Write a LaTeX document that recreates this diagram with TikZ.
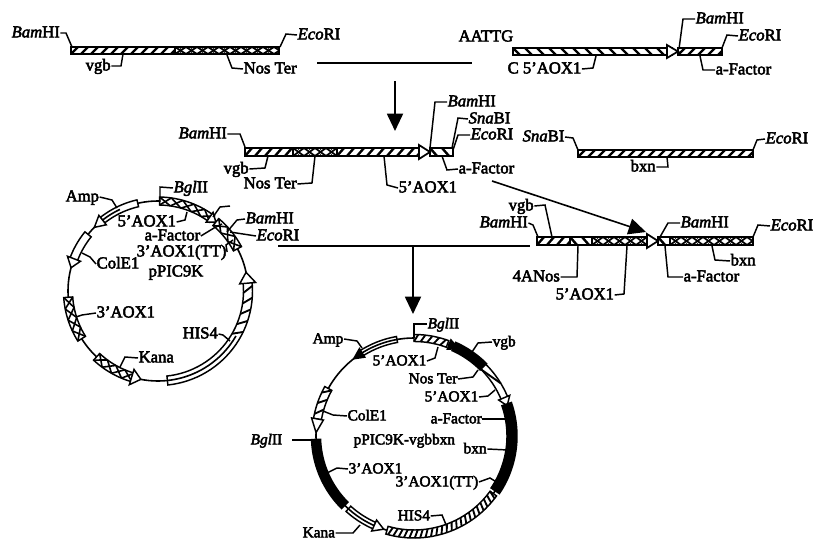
\documentclass[tikz,border=0pt]{standalone}
\usepackage{fontspec}
\setmainfont{Liberation Serif}[FakeBold=3]
\usetikzlibrary{arrows.meta}
\def\labfont{\fontsize{12.5}{14}\selectfont}
\tikzset{
  lab/.style={font=\labfont,inner sep=0pt,outer sep=0.5pt,anchor=west,text height=0.66em,text depth=0pt},
  ld/.style={line width=1.1pt,line join=miter},
  barout/.style={draw=black,line width=1.5pt,line join=miter},
  barline/.style={line width=1.3pt,black},
  ringout/.style={draw=black,fill=white,line width=1.1pt,line join=miter},
  ringblack/.style={draw=black,fill=black,line width=1.1pt,line join=miter},
  ringline/.style={line width=1.2pt,black},
  base/.style={line width=1.2pt,black},
  bigarrow/.style={line width=1.4pt,-{Triangle[length=13pt,width=12pt]}}
}
% label
\newcommand\lab[4]{\node[lab] (#1) at (#2,#3) {#4};}
% leader from label anchor via one point to end
\newcommand\leader[4]{\coordinate (#1-e) at #4; \draw[ld] (#1.#2) -- #3 -- (#1-e);}
\newcommand\leaderS[3]{\coordinate (#1-e) at #3; \draw[ld] (#1.#2) -- (#1-e);}
% straight bar: hatched
\newcommand\barH[4]{%
  \begin{scope}\clip (#1,#3) rectangle (#2,#4);
    \pgfmathtruncatemacro\nn{(#2-#1)/10+2}
    \foreach \i in {0,...,\nn}{\draw[barline,line width=1.8pt] ({#1+10*\i-10},#4) -- ({#1+10*\i-3},#3);}
  \end{scope}
  \draw[barout] (#1,#3) rectangle (#2,#4);}
% reverse-hatched
\newcommand\barB[4]{%
  \begin{scope}\clip (#1,#3) rectangle (#2,#4);
    \pgfmathtruncatemacro\nn{(#2-#1)/12+2}
    \foreach \i in {0,...,\nn}{\draw[barline,line width=1.8pt] ({#1+12*\i-12},#3) -- ({#1+12*\i-5},#4);}
  \end{scope}
  \draw[barout] (#1,#3) rectangle (#2,#4);}
% straight bar: crossed
\newcommand\barX[4]{%
  \begin{scope}\clip (#1,#3) rectangle (#2,#4);
    \pgfmathtruncatemacro\nn{(#2-#1)/11+2}
    \foreach \i in {0,...,\nn}{
      \draw[barline] ({#1+11*\i-11},#4) -- ({#1+11*\i},#3);
      \draw[barline] ({#1+11*\i-11},#3) -- ({#1+11*\i},#4);
      \fill ({#1+11*\i-5.5},#3) circle [radius=1.8];
      \fill ({#1+11*\i-5.5},#4) circle [radius=1.8];}
  \end{scope}
  \draw[barout] (#1,#3) rectangle (#2,#4);}
% arrow head on a bar: tip x, y1, y2
\newcommand\barTip[3]{\draw[barout,fill=white,line width=1.3pt] ({#1-11},{#2-3}) -- (#1,{(#2+#3)/2}) -- ({#1-11},{#3+3}) -- cycle;}
% ring segment
\def\PC#1#2#3#4{({#1+(#3)*cos(#4)},{#2+(#3)*sin(#4)})}
% cx cy r a1 a2 hw
\newcommand\ringS[7][ringout]{%
  \draw[#1] plot[domain=#5:#6,samples=30] ({#2+(#4+#7)*cos(\x)},{#3+(#4+#7)*sin(\x)})
    -- plot[domain=#6:#5,samples=30] ({#2+(#4-#7)*cos(\x)},{#3+(#4-#7)*sin(\x)}) -- cycle;}
% centre line along the ring: cx cy r a1 a2
\newcommand\ringC[5]{\draw[ringline] plot[domain=#4:#5,samples=20] ({#1+(#3)*cos(\x)},{#2+(#3)*sin(\x)});}
% slanted strokes only: cx cy r a1 a2 hw stepdeg
\newcommand\ringStrokes[7]{%
  \pgfmathtruncatemacro\nn{abs(#5-#4)/#7}
  \pgfmathsetmacro\dd{(#5-#4)/\nn}
  \foreach \i in {1,...,\nn}{
    \pgfmathsetmacro\aa{#4+\dd*(\i-1)}
    \pgfmathsetmacro\bb{#4+\dd*(\i-0.4)}
    \draw[ringline,line width=1.4pt] \PC{#1}{#2}{#3-#6}{\aa} -- \PC{#1}{#2}{#3+#6}{\bb};}}
% hatched
\newcommand\ringH[7]{\ringS{#1}{#2}{#3}{#4}{#5}{#6}\ringStrokes{#1}{#2}{#3}{#4}{#5}{#6}{#7}}
% crossed
\newcommand\ringX[7]{%
  \ringS{#1}{#2}{#3}{#4}{#5}{#6}
  \pgfmathtruncatemacro\nn{abs(#5-#4)/#7}
  \pgfmathsetmacro\dd{(#5-#4)/\nn}
  \foreach \i in {1,...,\nn}{
    \pgfmathsetmacro\aa{#4+\dd*(\i-1)}
    \pgfmathsetmacro\bb{#4+\dd*\i}
    \draw[ringline] \PC{#1}{#2}{#3-#6}{\aa} -- \PC{#1}{#2}{#3+#6}{\bb};
    \draw[ringline] \PC{#1}{#2}{#3+#6}{\aa} -- \PC{#1}{#2}{#3-#6}{\bb};}}
% head: cx cy r tipangle baseangle hw, optional style
\newcommand\ringT[7][ringout]{\draw[#1] \PC{#2}{#3}{#4-#7}{#6} -- \PC{#2}{#3}{#4}{#5} -- \PC{#2}{#3}{#4+#7}{#6} -- cycle;}
\begin{document}
\begin{tikzpicture}[x=0.75pt,y=-0.75pt]
\useasboundingbox (0,0) rectangle (815,539);
\fill[white] (0,0) rectangle (815,539);

% ---------- row 1, left fragment
\barH{71}{175}{47}{54}
\barX{175}{279}{47}{54}
\lab{a1}{11}{33}{\textit{Bam}HI}
\lab{a2}{297}{35}{\textit{Eco}RI}
\lab{a3}{85}{66}{vgb}
\lab{a4}{243}{69}{Nos Ter}
\leader{a1}{east}{(66,33)}{(72,47)}
\leader{a2}{west}{(286,34)}{(280,47)}
\leader{a3}{east}{(121,66)}{(123,54)}
\leader{a4}{west}{(232,68)}{(227,55)}
\coordinate (dashL) at (317,63); \coordinate (dashR) at (472,63);
\draw[base] (dashL) -- (dashR);
\coordinate (arA) at (395,81); \coordinate (arB) at (395,131);
\draw[bigarrow] (arA) -- (arB);

% ---------- row 1, right fragment
\barB{513}{672}{48}{55}
\barTip{678}{48}{55}
\barH{678}{722}{48}{55}
\lab{b1}{458}{37}{AATTG}
\lab{b2}{507}{69}{C 5'AOX1}
\lab{b3}{695}{19}{\textit{Bam}HI}
\lab{b4}{738}{36}{\textit{Eco}RI}
\lab{b5}{715}{70}{a-Factor}
\leader{b2}{east}{(593,68)}{(596,56)}
\leader{b3}{west}{(683,19)}{(679,49)}
\leader{b4}{west}{(727,35)}{(722,48)}
\leader{b5}{west}{(703,70)}{(700,56)}

% ---------- row 2, ligated fragment
\barH{245}{293}{148}{156}
\barX{293}{337}{148}{156}
\barH{337}{420}{148}{156}
\barTip{430}{148}{156}
\barB{430}{453}{148}{156}
\lab{c1}{178}{134}{\textit{Bam}HI}
\lab{c2}{223}{169}{vgb}
\lab{c3}{243}{184}{Nos Ter}
\lab{c4}{398}{188}{5'AOX1}
\lab{c5}{447}{102}{\textit{Bam}HI}
\lab{c6}{468}{119}{\textit{Sna}BI}
\lab{c7}{470}{135}{\textit{Eco}RI}
\lab{c8}{458}{169}{a-Factor}
\leader{c1}{east}{(240,134)}{(245,147)}
\leader{c2}{east}{(265,168)}{(268,156)}
\leader{c3}{east}{(312,183)}{(315,156)}
\leader{c4}{west}{(387,185)}{(384,156)}
\leader{c5}{west}{(435,102)}{(430,148)}
\leader{c6}{west}{(458,118)}{(452,148)}
\leader{c7}{west}{(458,135)}{(453,150)}
\leader{c8}{west}{(447,170)}{(442,156)}

% ---------- row 2, bxn fragment
\barH{578}{753}{150}{157}
\lab{d1}{522}{137}{\textit{Sna}BI}
\lab{d2}{765}{139}{\textit{Eco}RI}
\lab{d3}{630}{167}{bxn}
\leader{d1}{east}{(573,138)}{(578,150)}
\leader{d2}{west}{(757,140)}{(753,150)}
\leader{d3}{east}{(668,167)}{(667,157)}

% ---------- long arrow
\coordinate (lgA) at (492,181); \coordinate (lgB) at (646,232);
\draw[line width=1.2pt,-{Triangle[length=13pt,width=12pt]}] (lgA) -- (lgB);

% ---------- right ligated fragment
\barH{537}{570}{237}{245}
\barB{570}{592}{237}{245}
\barX{592}{650}{237}{245}
\barTip{658}{237}{245}
\barB{658}{670}{237}{245}
\barX{670}{753}{237}{245}
\lab{e1}{508}{206}{vgb}
\lab{e2}{479}{223}{\textit{Bam}HI}
\lab{e3}{512}{277}{4ANos}
\lab{e4}{555}{295}{5'AOX1}
\lab{e5}{680}{223}{\textit{Bam}HI}
\lab{e6}{770}{226}{\textit{Eco}RI}
\lab{e7}{730}{261}{bxn}
\lab{e8}{683}{277}{a-Factor}
\leader{e1}{east}{(545,205)}{(552,237)}
\leader{e2}{east}{(533,225)}{(538,237)}
\leader{e3}{east}{(577,277)}{(578,246)}
\leader{e4}{east}{(624,294)}{(627,246)}
\leader{e5}{west}{(668,223)}{(660,237)}
\leader{e6}{west}{(758,225)}{(753,237)}
\leader{e7}{west}{(715,260)}{(712,246)}
\leader{e8}{west}{(668,277)}{(665,246)}

\coordinate (hlA) at (278,246); \coordinate (hlB) at (530,246);
\draw[base] (hlA) -- (hlB);
\coordinate (arC) at (413,247); \coordinate (arD) at (413,314);
\draw[bigarrow] (arC) -- (arD);

% ---------- plasmid pPIC9K
\def\cxa{158}\def\cya{291}\def\ra{90}
\draw[base] (\cxa,\cya) circle [radius=\ra];
\ringX{\cxa}{\cya}{\ra}{-89}{-53}{4}{7}
\ringT{\cxa}{\cya}{\ra}{-50}{-55}{6}
\ringX{\cxa}{\cya}{\ra}{-50}{-28}{4.5}{6}
\ringS{\cxa}{\cya}{\ra}{84}{-6}{4.5}
\ringC{\cxa}{\cya}{\ra}{84}{30}
\ringStrokes{\cxa}{\cya}{\ra}{30}{-6}{4.5}{7}
\ringT{\cxa}{\cya}{\ra}{-12}{-5}{8}
\ringX{\cxa}{\cya}{\ra}{133}{106}{4.5}{6}
\ringT{\cxa}{\cya}{\ra}{101}{107}{8}
\ringX{\cxa}{\cya}{\ra}{176}{148}{4.5}{6}
\ringS{\cxa}{\cya}{\ra}{219}{200}{4}
\ringT{\cxa}{\cya}{\ra}{195}{201}{7}
\ringS{\cxa}{\cya}{\ra}{257}{232}{3.5}
\ringC{\cxa}{\cya}{\ra}{245}{232}
\ringT{\cxa}{\cya}{\ra}{225}{232}{6}
\lab{f1}{173}{188}{\textit{Bgl}II}
\lab{f2}{65}{197}{Amp}
\lab{f3}{117}{222}{5'AOX1}
\lab{f4}{144}{236}{a-Factor}
\lab{f5}{245}{219}{\textit{Bam}HI}
\lab{f6}{256}{236}{\textit{Eco}RI}
\lab{f7}{136}{252}{3'AOX1(TT)}
\lab{f8}{148}{272}{pPIC9K}
\lab{f9}{96}{264}{ColE1}
\lab{f10}{96}{313}{3'AOX1}
\lab{f11}{138}{358}{Kana}
\lab{f12}{182}{334}{HIS4}
\leader{f1}{west}{(160,187)}{(160,202)}
\leader{f2}{east}{(112,200)}{(117,208)}
\leader{f3}{east}{(185,220)}{(187,212)}
\leader{f4}{east}{(214,228)}{(222,224)}
\leader{f5}{west}{(237,220)}{(227,232)}
\leaderS{f6}{west}{(230,232)}
\leader{f7}{east}{(226,245)}{(233,240)}
\leader{f9}{west}{(90,257)}{(82,253)}
\leader{f10}{west}{(82,315)}{(76,317)}
\leader{f11}{west}{(125,357)}{(120,367)}
\leader{f12}{east}{(223,335)}{(230,341)}
\coordinate (fsA) at (213,217); \coordinate (fsB) at (230,206);
\draw[ld] (fsA) -- (220,207) -- (fsB);

% ---------- plasmid pPIC9K-vgbbxn
\def\labfont{\fontsize{11.5}{13}\selectfont}
\def\cxb{414}\def\cyb{436}\def\rb{98}
\draw[base] (\cxb,\cyb) circle [radius=\rb];
\ringH{\cxb}{\cyb}{\rb}{-90}{-70}{3.5}{4}
\ringT[ringblack]{\cxb}{\cyb}{\rb}{-63}{-69}{5}
\ringS[ringblack]{\cxb}{\cyb}{\rb}{-66}{-45}{4.5}
\ringH{\cxb}{\cyb}{\rb}{-45}{-22}{3.5}{12}
\ringT{\cxb}{\cyb}{\rb}{-18}{-23}{6}
\ringS[ringblack]{\cxb}{\cyb}{\rb}{-19}{34}{5}
\ringH{\cxb}{\cyb}{\rb}{36}{106}{4}{3}
\ringS{\cxb}{\cyb}{\rb}{132}{113}{3.5}
\ringC{\cxb}{\cyb}{\rb}{132}{113}
\ringT{\cxb}{\cyb}{\rb}{108}{114}{6}
\ringS[ringblack]{\cxb}{\cyb}{\rb}{178}{135}{4.5}
\ringH{\cxb}{\cyb}{\rb}{209}{190}{4}{6}
\ringT{\cxb}{\cyb}{\rb}{182}{190}{6}
\ringS{\cxb}{\cyb}{\rb}{260}{237}{3}
\ringC{\cxb}{\cyb}{\rb}{260}{237}
\ringT[ringblack]{\cxb}{\cyb}{\rb}{232}{238}{5}
\lab{g1}{427}{324}{\textit{Bgl}II}
\lab{g2}{312}{339}{Amp}
\lab{g3}{372}{361}{5'AOX1}
\lab{g4}{492}{342}{vgb}
\lab{g5}{408}{379}{Nos Ter}
\lab{g6}{424}{397}{5'AOX1}
\lab{g7}{430}{419}{a-Factor}
\lab{g8}{463}{449}{bxn}
\lab{g9}{395}{482}{3'AOX1(TT)}
\lab{g10}{397}{516}{HIS4}
\lab{g11}{302}{533}{Kana}
\lab{g12}{347}{416}{ColE1}
\lab{g13}{250}{440}{\textit{Bgl}II}
\lab{g14}{348}{469}{3'AOX1}
\lab{g15}{353}{440}{pPIC9K-vgbbxn}
\leader{g1}{west}{(414,324)}{(414,338)}
\leader{g2}{east}{(357,341)}{(362,348)}
\leader{g3}{east}{(435,358)}{(438,347)}
\leader{g4}{west}{(478,343)}{(472,352)}
\leader{g5}{east}{(473,377)}{(478,370)}
\leader{g6}{east}{(488,396)}{(495,390)}
\leaderS{g7}{east}{(507,419)}
\leaderS{g8}{east}{(508,450)}
\leader{g9}{east}{(490,478)}{(498,483)}
\leader{g10}{east}{(442,515)}{(447,527)}
\leader{g11}{east}{(353,533)}{(360,525)}
\leader{g12}{west}{(333,415)}{(323,411)}
\coordinate (g13-s) at (292,440); \coordinate (g13-e) at (312,440);
\draw[ld] (g13-s) -- (g13-e);
\leader{g14}{west}{(337,468)}{(327,473)}
\end{tikzpicture}
\end{document}
